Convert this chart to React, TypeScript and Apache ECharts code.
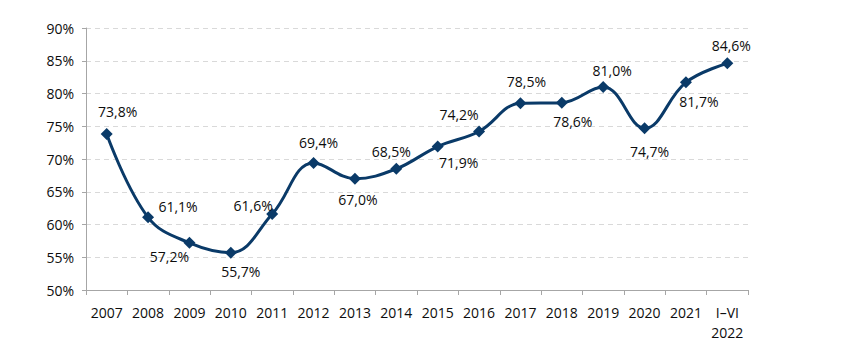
import React, { useEffect, useRef } from "react";
import * as echarts from "echarts";

const categories = ["2007", "2008", "2009", "2010", "2011", "2012", "2013", "2014", "2015", "2016", "2017", "2018", "2019", "2020", "2021", "I–VI\n2022"];
const values = [73.8, 61.1, 57.2, 55.7, 61.6, 69.4, 67.0, 68.5, 71.9, 74.2, 78.5, 78.6, 81.0, 74.7, 81.7, 84.6];
const labelOffsets: [number, number][] = [
  [11, -23], [30, -11], [-20, 14], [10, 19], [-19, -9], [5, -20], [3, 21], [-5, -17],
  [21, 16], [-20, -17], [6, -22], [11, 19], [9, -16], [5, 23], [13, 19], [4, -18],
];

export default function App() {
  const ref = useRef<HTMLDivElement>(null);
  useEffect(() => {
    if (!ref.current) return;
    const chart = echarts.init(ref.current, undefined, { renderer: "svg" });
    const font = "'Open Sans', 'Noto Sans', sans-serif";
    chart.setOption({
      animation: false,
      textStyle: { fontFamily: font },
      grid: { left: 86, right: 108, top: 28, bottom: 65 },
      xAxis: {
        type: "category",
        data: categories,
        boundaryGap: true,
        axisLine: { lineStyle: { color: "#a6a6a6", width: 1 } },
        axisTick: { show: true, length: 5, lineStyle: { color: "#a6a6a6" } },
        axisLabel: { color: "#0d0d0d", fontSize: 14, fontFamily: font, margin: 12, lineHeight: 20, interval: 0 },
      },
      yAxis: {
        type: "value",
        min: 50,
        max: 90,
        interval: 5,
        axisLine: { show: true, lineStyle: { color: "#a6a6a6", width: 1 } },
        axisTick: { show: true, length: 4, lineStyle: { color: "#a6a6a6" } },
        axisLabel: { color: "#0d0d0d", fontSize: 14, fontFamily: font, margin: 12, formatter: (v: number) => v + "%" },
        splitLine: { show: true, lineStyle: { color: "#d9d9d9", type: [5, 4], width: 1 } },
      },
      series: [
        {
          type: "line",
          data: values.map((v, i) => ({
            value: v,
            label: {
              show: true,
              position: "inside",
              offset: labelOffsets[i],
              formatter: () => v.toFixed(1).replace(".", ",") + "%",
              color: "#0d0d0d",
              fontSize: 14,
              fontFamily: font,
            },
          })),
          smooth: 0.4,
          symbol: "diamond",
          symbolSize: 12,
          lineStyle: { color: "#0a3a68", width: 3 },
          itemStyle: { color: "#0a3a68" },
        },
      ],
    });
    return () => chart.dispose();
  }, []);
  return <div ref={ref} style={{ position: "fixed", left: 0, top: 0, width: 856, height: 355, background: "#fff" }} />;
}
